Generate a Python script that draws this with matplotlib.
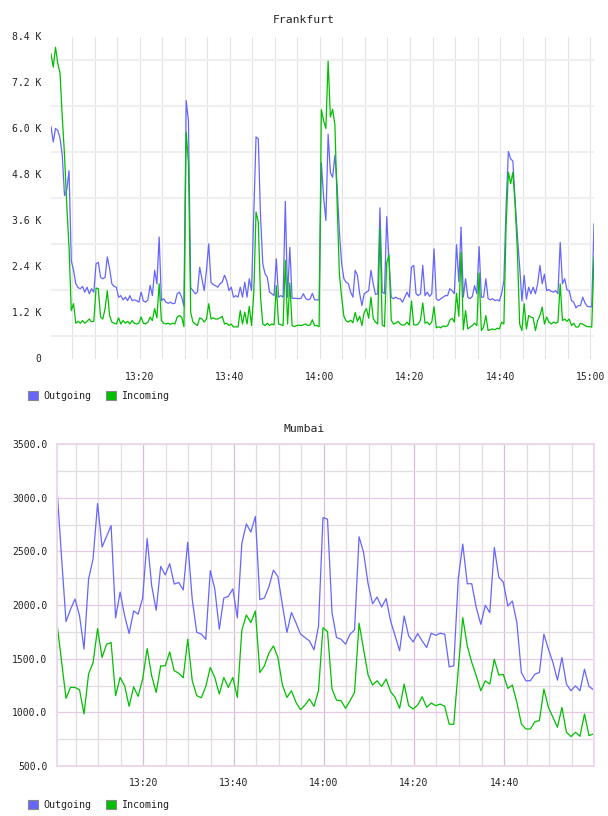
import numpy as np
import pandas as pd
import matplotlib
matplotlib.use("Agg")
import matplotlib.pyplot as plt
import matplotlib.dates as mdates
from matplotlib.patches import Patch
from matplotlib.ticker import FixedLocator, FuncFormatter

# ---------------- data ----------------
# Frankfurt, 30 s samples, values in K
fra_start = "2024-01-01 13:00:20"
fra_outgoing = [
    6.05, 5.65, 6.0, 5.95, 5.75, 5.3, 4.25, 4.4, 4.9, 2.55,
    2.3, 1.95, 1.85, 1.82, 1.88, 1.73, 1.86, 1.69, 1.82, 1.73,
    2.47, 2.51, 2.12, 2.08, 2.12, 2.65, 2.35, 1.95, 1.88, 1.86,
    1.6, 1.64, 1.53, 1.6, 1.51, 1.64, 1.51, 1.53, 1.51, 1.47,
    1.73, 1.5, 1.47, 1.53, 1.91, 1.64, 2.3, 1.95, 3.17, 1.51,
    1.56, 1.47, 1.44, 1.47, 1.43, 1.44, 1.69, 1.73, 1.6, 1.36,
    6.73, 6.2, 1.85, 1.77, 1.69, 1.73, 2.38, 2.08, 1.77, 2.3,
    2.99, 1.99, 1.93, 1.9, 1.86, 1.95, 1.99, 2.17, 2.03, 1.77,
    1.86, 1.6, 1.64, 1.6, 1.86, 1.6, 1.99, 1.6, 2.08, 1.77,
    3.77, 5.78, 5.73, 3.69, 2.47, 2.21, 2.12, 1.73, 1.69, 1.64,
    2.6, 1.6, 1.64, 1.6, 4.1, 1.6, 2.9, 1.57, 1.57, 1.57,
    1.56, 1.57, 1.69, 1.57, 1.53, 1.55, 1.7, 1.53, 1.53, 1.53,
    5.1, 4.2, 3.6, 5.85, 4.85, 4.73, 5.3, 4.5, 3.3, 2.47,
    2.08, 1.99, 1.95, 1.73, 1.6, 2.3, 2.17, 1.69, 1.38, 1.69,
    1.73, 1.77, 2.3, 1.95, 1.67, 1.69, 3.93, 1.73, 1.69, 3.7,
    2.56, 1.6, 1.56, 1.6, 1.56, 1.56, 1.47, 1.6, 1.73, 1.6,
    2.38, 2.43, 1.69, 1.64, 1.69, 2.43, 1.64, 1.73, 1.62, 1.69,
    2.86, 1.56, 1.51, 1.56, 1.6, 1.64, 1.64, 1.82, 1.77, 1.69,
    2.97, 2.0, 3.43, 1.6, 2.08, 1.6, 1.56, 1.62, 1.9, 1.69,
    2.92, 1.6, 1.6, 2.08, 1.56, 1.53, 1.56, 1.51, 1.53, 1.5,
    1.69, 2.03, 4.0, 5.4, 5.21, 5.15, 4.1, 3.2, 2.4, 1.5,
    2.17, 1.55, 1.86, 1.69, 1.86, 1.69, 1.95, 2.43, 1.95, 2.2,
    1.77, 1.8, 1.75, 1.73, 1.77, 1.69, 3.03, 1.95, 2.08, 1.79,
    1.77, 1.51, 1.47, 1.32, 1.38, 1.38, 1.6, 1.45, 1.36, 1.35,
    1.35, 3.51,
]
fra_incoming = [
    7.95, 7.6, 8.12, 7.7, 7.45, 6.3, 5.3, 4.0, 2.9, 1.25,
    1.43, 0.92, 0.97, 0.92, 0.99, 0.92, 0.97, 1.03, 0.96, 0.97,
    1.84, 1.82, 1.08, 1.03, 1.3, 1.77, 1.12, 0.95, 0.92, 0.9,
    1.06, 0.9, 0.99, 0.92, 0.97, 0.9, 0.99, 0.92, 0.9, 0.92,
    1.08, 0.92, 0.9, 0.95, 1.08, 0.99, 1.3, 1.06, 1.95, 0.99,
    0.92, 0.9, 0.92, 0.89, 0.92, 0.9, 1.08, 1.12, 1.08, 0.83,
    5.9, 5.1, 1.2, 0.95, 0.9, 0.86, 1.06, 1.03, 0.95, 1.03,
    1.43, 1.03, 1.06, 1.03, 1.03, 1.06, 1.1, 0.9, 0.92, 0.86,
    0.9, 0.82, 0.83, 0.82, 1.25, 0.9, 1.21, 0.9, 1.36, 0.86,
    1.69, 3.82, 3.56, 1.6, 0.9, 0.86, 0.92, 0.86, 0.9, 0.88,
    1.9, 0.9, 0.88, 0.86, 2.56, 0.9, 1.97, 0.86, 0.83, 0.86,
    0.87, 0.86, 0.88, 0.9, 0.86, 0.87, 1.01, 0.86, 0.86, 0.83,
    6.49, 6.2, 6.0, 7.76, 6.3, 6.5, 6.1, 4.0, 2.2, 1.6,
    1.1, 0.98, 0.95, 1.0, 0.93, 1.2, 0.97, 1.1, 0.86, 1.2,
    1.3, 1.05, 1.6, 1.05, 0.95, 0.9, 3.4, 0.88, 0.83, 2.5,
    2.7, 1.0, 0.9, 0.92, 0.97, 0.9, 0.87, 0.88, 0.95, 0.87,
    1.5, 0.88, 0.87, 0.9, 1.0, 1.45, 0.92, 0.95, 0.88, 0.95,
    1.35, 0.8, 0.83, 0.8, 0.85, 0.83, 0.85, 1.0, 1.05, 0.95,
    1.7, 1.1, 2.77, 0.75, 1.25, 0.77, 0.82, 0.86, 0.92, 0.86,
    2.23, 0.73, 0.82, 1.12, 0.73, 0.75, 0.77, 0.75, 0.79, 0.77,
    0.95, 0.9, 3.5, 4.86, 4.56, 4.86, 4.0, 2.8, 0.9, 0.73,
    1.43, 0.77, 1.12, 1.08, 1.06, 0.73, 0.99, 1.12, 1.34, 0.9,
    1.08, 0.95, 0.9, 0.95, 0.92, 0.95, 1.95, 0.99, 1.03, 0.97,
    1.03, 0.86, 0.92, 0.82, 0.82, 0.92, 0.89, 0.86, 0.83, 0.83,
    0.82, 2.64,
]

# Mumbai, 1 min samples
mum_start = "2024-01-01 13:00:50"
mum_outgoing = [
    3083, 2450, 1845, 1960, 2055, 1900, 1590, 2240, 2430, 2945,
    2540, 2640, 2740, 1880, 2120, 1900, 1735, 1945, 1915, 2065,
    2620, 2180, 1950, 2360, 2280, 2385, 2195, 2210, 2140, 2585,
    2050, 1745, 1730, 1680, 2320, 2150, 1775, 2065, 2080, 2150,
    1880, 2575, 2755, 2680, 2825, 2050, 2065, 2170, 2325, 2265,
    2000, 1745, 1930, 1835, 1730, 1697, 1665, 1582, 1800, 2815,
    2800, 1930, 1697, 1681, 1635, 1728, 1768, 2636, 2491, 2198,
    2012, 2074, 1981, 2060, 1851, 1712, 1573, 1898, 1712, 1656,
    1734, 1665, 1604, 1737, 1718, 1737, 1728, 1424, 1433, 2244,
    2568, 2198, 2198, 1975, 1820, 1997, 1929, 2537, 2259, 2213,
    1990, 2037, 1836, 1371, 1294, 1294, 1356, 1371, 1728, 1588,
    1464, 1300, 1511, 1263, 1201, 1247, 1201, 1402, 1241, 1210,
]
mum_incoming = [
    1827, 1480, 1130, 1232, 1232, 1210, 985, 1356, 1464, 1780,
    1511, 1635, 1650, 1155, 1325, 1248, 1056, 1238, 1149, 1310,
    1594, 1340, 1186, 1433, 1433, 1563, 1387, 1365, 1322, 1681,
    1294, 1155, 1136, 1241, 1418, 1325, 1170, 1325, 1232, 1325,
    1139, 1765, 1907, 1836, 1944, 1371, 1433, 1551, 1619, 1511,
    1254, 1139, 1201, 1093, 1025, 1068, 1124, 1056, 1201, 1789,
    1752, 1217, 1114, 1108, 1037, 1108, 1186, 1830, 1588, 1347,
    1254, 1294, 1241, 1310, 1192, 1139, 1037, 1263, 1062, 1031,
    1068, 1145, 1046, 1087, 1062, 1077, 1056, 889, 889, 1400,
    1882, 1619, 1464, 1340, 1201, 1294, 1263, 1495, 1347, 1353,
    1223, 1254, 1093, 892, 845, 845, 913, 923, 1217, 1046,
    954, 861, 1046, 814, 774, 814, 777, 985, 783, 799,
]

fra_t = pd.date_range(fra_start, periods=len(fra_outgoing), freq="30s")
mum_t = pd.date_range(mum_start, periods=len(mum_outgoing), freq="60s")

BLUE = "#6666ff"
GREEN = "#00c000"
FONT = "DejaVu Sans Mono"
plt.rcParams["font.family"] = FONT

fig = plt.figure(figsize=(6.08, 8.16), dpi=100)


def time_axis(ax, t0, t1, show_1500=True):
    ax.set_xlim(t0, t1)
    ticks = pd.date_range("2024-01-01 13:05", "2024-01-01 15:00", freq="5min")
    ax.xaxis.set_major_locator(FixedLocator(mdates.date2num(ticks)))

    def fmt(v, pos):
        d = mdates.num2date(v)
        if d.minute % 20 == 0:
            return d.strftime("%H:%M")
        return ""
    ax.xaxis.set_major_formatter(FuncFormatter(fmt))
    ax.tick_params(axis="both", length=0, labelsize=7, colors="#222222")
    ax.tick_params(axis="x", pad=10)


# ---------------- Frankfurt ----------------
ax1 = fig.add_axes([51 / 608, 1 - 358.5 / 816, 543 / 608, 322 / 816])
ax1.plot(fra_t, fra_outgoing, color=BLUE, lw=0.9)
ax1.plot(fra_t, fra_incoming, color=GREEN, lw=0.9)
ax1.set_ylim(0, 8.4)
time_axis(ax1, pd.Timestamp(fra_start), pd.Timestamp("2024-01-01 15:00:50"))
ax1.set_yticks(np.arange(0, 8.41, 1.2))
ax1.set_yticklabels(["0"] + [f"{v:.1f} K" for v in np.arange(1.2, 8.41, 1.2)])
ax1.set_yticks(np.arange(0.6, 8.4, 1.2), minor=True)
ax1.tick_params(axis="y", which="both", length=0, pad=7)
ax1.grid(axis="x", which="major", color="#e3e3e3", lw=0.8)
ax1.grid(axis="y", which="minor", color="#efefef", lw=1.5)
ax1.set_axisbelow(True)
for s in ax1.spines.values():
    s.set_visible(False)
fig.text(304 / 608, 1 - 20 / 816, "Frankfurt", ha="center", va="center",
         fontsize=8.2, color="#222222")

# ---------------- Mumbai ----------------
ax2 = fig.add_axes([57 / 608, 1 - 766 / 816, 536.5 / 608, 322 / 816])
ax2.plot(mum_t, mum_outgoing, color=BLUE, lw=0.9)
ax2.plot(mum_t, mum_incoming, color=GREEN, lw=0.9)
ax2.set_ylim(500, 3500)
time_axis(ax2, pd.Timestamp(mum_start), pd.Timestamp("2024-01-01 14:59:50"))
ax2.set_yticks(np.arange(500, 3501, 500))
ax2.set_yticklabels([f"{v:.1f}" for v in np.arange(500, 3501, 500)])
ax2.set_yticks(np.arange(750, 3500, 500), minor=True)
ax2.tick_params(axis="y", which="both", length=0, pad=7)
ax2.tick_params(axis="x", pad=9)
minor_x = pd.date_range("2024-01-01 13:05", "2024-01-01 14:55", freq="5min")
for tt in minor_x:
    c = "#d8bcd8" if tt.minute % 20 == 0 else "#e2dbe2"
    ax2.axvline(tt, color=c, lw=0.9, zorder=0)
ax2.grid(axis="x", visible=False)
ax2.grid(axis="y", which="major", color="#e6c8e6", lw=0.9)
ax2.grid(axis="y", which="minor", color="#e2dbe2", lw=0.9)
ax2.set_axisbelow(True)
for s in ax2.spines.values():
    s.set_color("#ecd8ec")
    s.set_linewidth(1.4)
fig.text(304 / 608, 1 - 429 / 816, "Mumbai", ha="center", va="center",
         fontsize=8.2, color="#222222")

# ---------------- legends ----------------
handles = [Patch(facecolor=BLUE, edgecolor="#888888", lw=0.8, label="Outgoing"),
           Patch(facecolor=GREEN, edgecolor="#888888", lw=0.8, label="Incoming")]
for ytop in (386, 795):
    fig.legend(handles=handles, loc="upper left", ncol=2, frameon=False,
               bbox_to_anchor=(23 / 608, 1 - ytop / 816), borderpad=0,
               handlelength=1.0, handleheight=1.0, handletextpad=0.5,
               columnspacing=1.5, fontsize=7.2, labelcolor="#222222")

fig.savefig("out.png", dpi=100)
